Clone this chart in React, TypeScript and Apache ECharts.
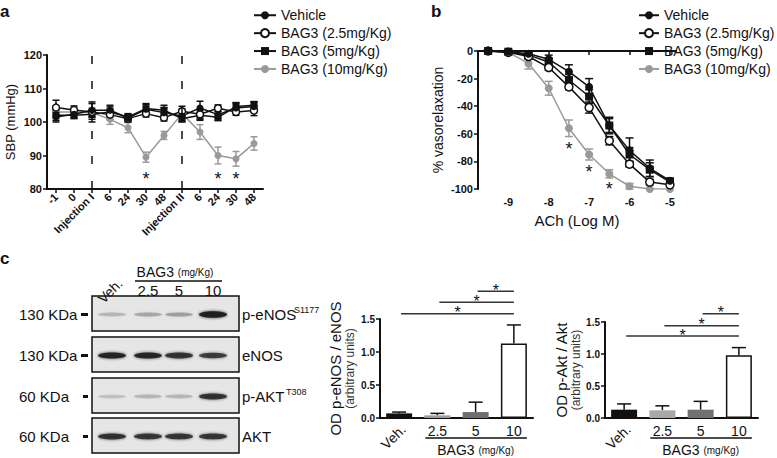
import React, { useEffect, useRef } from 'react';
import * as echarts from 'echarts';

const FONT = '"Liberation Sans", Arial, Helvetica, sans-serif';
const INK = '#111111';
const GREY = '#9a9a9a';

// ---------- Panel a : SBP time course ----------
const sbpCategories = ['-1', '0', 'Injection I', '6', '24', '30', '48', 'Injection II', '6', '24', '30', '48'];
const injectionMarks = ['Injection I', 'Injection II'];
const sbpVehicle = [101.5, 102.3, 103.5, 103.5, 101.2, 103.8, 102.8, 101.8, 104.2, 102.2, 104.2, 104.6];
const sbpVehicleErr = [1.5, 1.0, 2.0, 1.5, 1.0, 1.5, 1.5, 1.5, 2.0, 1.0, 1.5, 1.5];
const sbp25 = [104.3, 103.6, 103.0, 102.2, 101.0, 102.5, 101.3, 103.2, 102.3, 104.1, 103.0, 103.4];
const sbp25Err = [2.2, 1.2, 3.0, 1.5, 1.0, 1.0, 1.0, 1.5, 1.5, 1.0, 1.0, 1.5];
const sbp5 = [102.0, 102.0, 102.3, 103.0, 101.5, 104.0, 103.5, 101.0, 102.0, 101.4, 104.6, 105.0];
const sbp5Err = [1.5, 1.0, 1.5, 1.5, 1.0, 1.5, 1.5, 1.0, 1.5, 1.0, 1.2, 1.0];
const sbp10 = [103.0, 103.0, 102.8, 100.8, 98.3, 89.5, 96.0, 102.5, 97.0, 90.0, 89.0, 93.6];
const sbp10Err = [1.5, 1.5, 1.5, 1.5, 1.5, 1.5, 1.2, 1.5, 2.2, 2.5, 2.2, 2.0];
const sbpStarIdx = [5, 9, 10];
const sbpStarLevel = 83;

// ---------- Panel b : ACh dose response ----------
const achDose = [-9.5, -9, -8.5, -8, -7.5, -7, -6.5, -6, -5.5, -5];
const achTicks = [-9, -8, -7, -6, -5];
const relaxVehicle = [0, -0.5, -2, -6, -15, -26, -54, -72, -85, -94];
const relaxVehicleErr = [0, 1, 1.5, 3, 5, 6, 6, 9, 6, 2];
const relax25 = [0, -1, -4, -12, -26, -41, -65, -82, -95, -97];
const relax25Err = [0, 1, 2, 2, 2, 4, 3, 2, 2, 1];
const relax5 = [0, -0.5, -3, -8, -21, -33, -54, -75, -86, -95];
const relax5Err = [0, 1, 2, 3, 4, 5, 5, 5, 5, 2];
const relax10 = [0, -1, -9, -27, -56, -75, -89, -98, -100, -100];
const relax10Err = [0, 1, 4, 5, 6, 4, 3, 2, 0, 0];
const achStarDose = [-7.5, -7, -6.5];
const achStarLevel = [-71, -88, -100];

// ---------- Panel c : western blot + densitometry ----------
const blotLanes = ['2.5', '5', '10'];
const blotRows = ['p-eNOS', 'eNOS', 'p-AKT', 'AKT'];
const blotSup = ['S1177', '', 'T308', ''];
const blotMw = ['130 KDa', '130 KDa', '60 KDa', '60 KDa'];
const bandPeNOS = [0.22, 0.28, 0.3, 0.95];
const bandENOS = [0.9, 0.88, 0.8, 0.75];
const bandPAKT = [0.18, 0.22, 0.22, 0.8];
const bandAKT = [0.8, 0.78, 0.78, 0.78];

const barCategories = ['Veh.', '2.5', '5', '10'];
const odPeNOS = [0.07, 0.04, 0.09, 1.13];
const odPeNOSErr = [0.02, 0.03, 0.15, 0.28];
const odPAkt = [0.13, 0.12, 0.13, 0.98];
const odPAktErr = [0.09, 0.07, 0.13, 0.12];
const sigFrom = [2, 1, 0];
const sigLevelENOS = [1.92, 1.755, 1.58];
const sigLevelAkt = [1.63, 1.44, 1.28];

const NAMES = ['Vehicle', 'BAG3 (2.5mg/Kg)', 'BAG3 (5mg/Kg)', 'BAG3 (10mg/Kg)'];

// layout constants
const BLOT_X = 92;
const BLOT_W = 147;
const BLOT_TOPS = [296, 337, 378, 418];
const BLOT_H = 35;
const LANE_X = [112, 148, 179, 213];

function errorSeries(name: string, idx: number, data: number[][], color: string, cap: number, both: boolean) {
  return {
    type: 'custom',
    name,
    xAxisIndex: idx,
    yAxisIndex: idx,
    data,
    silent: true,
    z: 1,
    encode: { x: 0, y: 1 },
    renderItem: (_p: any, api: any) => {
      const x = api.value(0);
      const y = api.value(1);
      const e = api.value(2);
      if (!e) return { type: 'group', children: [] };
      const hi = api.coord([x, y + e]);
      const lo = api.coord([x, both ? y - e : y]);
      const st = { stroke: color, lineWidth: 1.5 };
      const ch: any[] = [
        { type: 'line', shape: { x1: hi[0], y1: hi[1], x2: lo[0], y2: lo[1] }, style: st },
        { type: 'line', shape: { x1: hi[0] - cap, y1: hi[1], x2: hi[0] + cap, y2: hi[1] }, style: st },
      ];
      if (both) ch.push({ type: 'line', shape: { x1: lo[0] - cap, y1: lo[1], x2: lo[0] + cap, y2: lo[1] }, style: st });
      return { type: 'group', children: ch };
    },
  };
}

function starSeries(name: string, idx: number, data: number[][]) {
  return {
    type: 'custom',
    name,
    xAxisIndex: idx,
    yAxisIndex: idx,
    data,
    silent: true,
    z: 5,
    encode: { x: 0, y: 1 },
    renderItem: (_p: any, api: any) => {
      const c = api.coord([api.value(0), api.value(1)]);
      return {
        type: 'text',
        x: c[0],
        y: c[1],
        style: { text: '*', fontSize: 18, fontFamily: FONT, fill: INK, align: 'center', verticalAlign: 'middle' },
      };
    },
  };
}

const styles = [
  { color: INK, symbol: 'circle', itemStyle: { color: INK } },
  { color: INK, symbol: 'circle', itemStyle: { color: '#ffffff', borderColor: INK, borderWidth: 1.5 } },
  { color: INK, symbol: 'rect', itemStyle: { color: INK } },
  { color: GREY, symbol: 'circle', itemStyle: { color: GREY } },
];

function lineSeries(i: number, idx: number, data: any[], size: number, extra: any = {}) {
  const s = styles[i];
  return {
    type: 'line',
    name: NAMES[i],
    xAxisIndex: idx,
    yAxisIndex: idx,
    data,
    symbol: s.symbol,
    symbolSize: size,
    showAllSymbol: true,
    z: 3,
    lineStyle: { color: s.color, width: 1.5 },
    itemStyle: s.itemStyle,
    ...extra,
  };
}

const tickLabel = { fontSize: 11, fontWeight: 'bold', color: INK, fontFamily: FONT };
const axisLineStyle = { show: true, lineStyle: { color: INK, width: 2 } };
const tickStyle = { show: true, length: 4, lineStyle: { color: INK, width: 1.5 } };

function buildOption() {
  const sbpSets = [sbpVehicle, sbp25, sbp5, sbp10];
  const sbpErrs = [sbpVehicleErr, sbp25Err, sbp5Err, sbp10Err];
  const relSets = [relaxVehicle, relax25, relax5, relax10];
  const relErrs = [relaxVehicleErr, relax25Err, relax5Err, relax10Err];
  const order = [3, 2, 1, 0];
  const series: any[] = [];

  order.forEach((i) => {
    series.push(
      errorSeries('erra' + i, 0, sbpSets[i].map((v, k) => [k, v, sbpErrs[i][k]]), styles[i].color, 3.5, true)
    );
  });
  order.forEach((i) => {
    const extra: any = {};
    if (i === 3) {
      extra.markLine = {
        silent: true,
        symbol: 'none',
        label: { show: false },
        lineStyle: { color: INK, width: 1.5, type: [8, 17] },
        data: injectionMarks.map((m) => ({ xAxis: m })),
      };
    }
    series.push(lineSeries(i, 0, sbpSets[i], 7, extra));
  });
  series.push(starSeries('stara', 0, sbpStarIdx.map((k) => [k, sbpStarLevel])));

  order.forEach((i) => {
    series.push(
      errorSeries('errb' + i, 1, achDose.map((d, k) => [d, relSets[i][k], relErrs[i][k]]), styles[i].color, 4, true)
    );
  });
  order.forEach((i) => {
    series.push(lineSeries(i, 1, achDose.map((d, k) => [d, relSets[i][k]]), 8));
  });
  series.push(starSeries('starb', 1, achStarDose.map((d, k) => [d, achStarLevel[k]])));

  const barColorsA = [INK, '#9c9c9c', '#6e6e6e', '#ffffff'];
  const barColorsB = [INK, '#a8a8a8', '#707070', '#ffffff'];
  const mkBars = (idx: number, vals: number[], cols: string[]) => ({
    type: 'bar',
    name: 'bars' + idx,
    xAxisIndex: idx,
    yAxisIndex: idx,
    barWidth: 26,
    z: 2,
    data: vals.map((v, k) => ({
      value: v,
      itemStyle: { color: cols[k], borderColor: k === 3 ? INK : cols[k], borderWidth: k === 3 ? 1.5 : 0 },
    })),
  });
  series.push(errorSeries('errc1', 2, odPeNOS.map((v, k) => [k, v, odPeNOSErr[k]]), INK, 7, false));
  series.push(mkBars(2, odPeNOS, barColorsA));
  series.push(errorSeries('errc2', 3, odPAkt.map((v, k) => [k, v, odPAktErr[k]]), INK, 7, false));
  series.push(mkBars(3, odPAkt, barColorsB));

  const legendBase = {
    data: NAMES,
    orient: 'vertical',
    itemHeight: 10,
    itemGap: 3.4,
    selectedMode: false,
    textStyle: { fontSize: 14, color: INK, fontFamily: FONT, lineHeight: 14.5 },
  };

  const barX = (idx: number) => ({
    gridIndex: idx,
    type: 'category',
    data: barCategories,
    axisLine: axisLineStyle,
    axisTick: { show: false },
    axisLabel: {
      interval: 0,
      fontSize: 14,
      color: INK,
      fontFamily: FONT,
      margin: 6,
      formatter: (v: string) => (v === 'Veh.' ? '' : v),
    },
  });
  const barY = (idx: number, name: string, gap: number) => ({
    gridIndex: idx,
    type: 'value',
    min: 0,
    max: 1.5,
    interval: 0.5,
    splitLine: { show: false },
    axisLine: axisLineStyle,
    axisTick: tickStyle,
    axisLabel: { ...tickLabel, fontSize: 10, margin: 5, formatter: (v: number) => v.toFixed(1) },
    name: '{a|' + name + '}\n{b|(arbitrary units)}',
    nameLocation: 'middle',
    nameRotate: 90,
    nameGap: gap,
    nameTextStyle: {
      color: INK,
      fontFamily: FONT,
      rich: {
        a: { fontSize: 15, color: INK, fontFamily: FONT, lineHeight: 16 },
        b: { fontSize: 12, color: '#333', fontFamily: FONT, lineHeight: 14 },
      },
    },
  });

  return {
    animation: false,
    backgroundColor: '#ffffff',
    textStyle: { fontFamily: FONT },
    legend: [
      { ...legendBase, itemWidth: 22, left: 248, top: 3 },
      { ...legendBase, itemWidth: 20, left: 633, top: 3 },
    ],
    grid: [
      { left: 47, top: 55, width: 216, height: 134 },
      { left: 478, top: 51, width: 198, height: 138 },
      { left: 380, top: 319, width: 153, height: 99 },
      { left: 605, top: 322, width: 153, height: 96 },
    ],
    xAxis: [
      {
        gridIndex: 0,
        type: 'category',
        data: sbpCategories,
        axisLine: axisLineStyle,
        axisTick: { ...tickStyle, alignWithLabel: true },
        axisLabel: { ...tickLabel, rotate: 45, interval: 0, margin: 6 },
      },
      {
        gridIndex: 1,
        type: 'value',
        min: -9.75,
        max: -4.85,
        splitLine: { show: false },
        axisLine: axisLineStyle,
        axisTick: { ...tickStyle, customValues: achTicks },
        axisLabel: { ...tickLabel, margin: 7, customValues: achTicks },
        name: 'ACh (Log M)',
        nameLocation: 'middle',
        nameGap: 24,
        nameTextStyle: { fontSize: 15, color: INK, fontFamily: FONT },
      },
      barX(2),
      barX(3),
    ],
    yAxis: [
      {
        gridIndex: 0,
        type: 'value',
        min: 80,
        max: 120,
        interval: 10,
        splitLine: { show: false },
        axisLine: axisLineStyle,
        axisTick: tickStyle,
        axisLabel: { ...tickLabel, margin: 5 },
        name: 'SBP (mmHg)',
        nameLocation: 'middle',
        nameRotate: 90,
        nameGap: 30,
        nameTextStyle: { fontSize: 13, color: INK, fontFamily: FONT },
      },
      {
        gridIndex: 1,
        type: 'value',
        min: -100,
        max: 0,
        interval: 20,
        splitLine: { show: false },
        axisLine: axisLineStyle,
        axisTick: tickStyle,
        axisLabel: { ...tickLabel, margin: 5 },
        name: '% vasorelaxation',
        nameLocation: 'middle',
        nameRotate: 90,
        nameGap: 33,
        nameTextStyle: { fontSize: 14, color: INK, fontFamily: FONT },
      },
      barY(2, 'OD p-eNOS / eNOS', 23),
      barY(3, 'OD p-Akt / Akt', 19),
    ],
    series,
  };
}

function txt(x: number, y: number, text: string, size: number, extra: any = {}, rotation = 0) {
  return {
    type: 'text',
    x,
    y,
    rotation,
    silent: true,
    style: {
      text,
      fontSize: size,
      fontFamily: FONT,
      fill: INK,
      align: 'left',
      verticalAlign: 'middle',
      ...extra,
    },
  };
}

function buildGraphics(chart: any) {
  const g: any[] = [];
  // panel letters
  g.push(txt(0, 11, 'a', 17, { fontWeight: 'bold' }));
  g.push(txt(431, 11, 'b', 17, { fontWeight: 'bold' }));
  g.push(txt(0, 258, 'c', 17, { fontWeight: 'bold' }));

  // western blot
  const bands = [bandPeNOS, bandENOS, bandPAKT, bandAKT];
  BLOT_TOPS.forEach((top, r) => {
    const cy = top + BLOT_H / 2 + 1;
    g.push({
      type: 'rect',
      silent: true,
      shape: { x: BLOT_X, y: top, width: BLOT_W, height: BLOT_H },
      style: { fill: '#e6e6e6', stroke: INK, lineWidth: 1.5 },
    });
    LANE_X.forEach((lx, l) => {
      const a = bands[r][l];
      g.push({
        type: 'ellipse',
        silent: true,
        shape: { cx: lx, cy, rx: 14, ry: 1.5 + 1.8 * a },
        style: { fill: `rgba(30,30,30,${a})`, shadowBlur: 3, shadowColor: `rgba(30,30,30,${a})` },
      });
    });
    g.push(txt(19, cy, blotMw[r], 15));
    g.push({
      type: 'line',
      silent: true,
      shape: { x1: blotMw[r].length > 6 ? 81 : 83, y1: cy, x2: 88, y2: cy },
      style: { stroke: INK, lineWidth: 3 },
    });
    g.push(txt(242, cy, blotRows[r], 15));
    if (blotSup[r]) {
      const off = r === 0 ? 52 : 44;
      g.push(txt(242 + off, cy - 5, blotSup[r], 9));
    }
  });
  // blot header
  g.push(txt(120, 281, 'Veh.', 14, { align: 'right' }, Math.PI / 4));
  g.push(
    txt(175, 272, '{a|BAG3} {b|(mg/Kg)}', 14, {
      align: 'center',
      rich: { a: { fontSize: 14, fontFamily: FONT, fill: INK }, b: { fontSize: 10, fontFamily: FONT, fill: INK } },
    })
  );
  g.push({ type: 'line', silent: true, shape: { x1: 135, y1: 281, x2: 222, y2: 281 }, style: { stroke: INK, lineWidth: 1.5 } });
  blotLanes.forEach((t, k) => g.push(txt(LANE_X[k + 1], 290, t, 15, { align: 'center' })));

  // densitometry annotations
  const annot = (idx: number, levels: number[]) => {
    const conv = (x: number, y: number) => chart.convertToPixel({ xAxisIndex: idx, yAxisIndex: idx }, [x, y]);
    levels.forEach((lv, k) => {
      const p1 = conv(sigFrom[k], lv);
      const p2 = conv(3, lv);
      g.push({ type: 'line', silent: true, shape: { x1: p1[0] + 2, y1: p1[1], x2: p2[0], y2: p2[1] }, style: { stroke: '#333', lineWidth: 1.5 } });
      g.push(txt((p1[0] + p2[0]) / 2 + 1, p1[1] - 1, '*', 16, { align: 'center' }));
    });
    const base0 = conv(0, 0);
    const c1 = conv(1, 0);
    const c3 = conv(3, 0);
    g.push(txt(base0[0] + 4, base0[1] + 9, 'Veh.', 14, { align: 'right' }, Math.PI / 4));
    g.push({
      type: 'line',
      silent: true,
      shape: { x1: c1[0] - 12, y1: base0[1] + 20, x2: c3[0] + 13, y2: base0[1] + 20 },
      style: { stroke: INK, lineWidth: 1.5 },
    });
    g.push(
      txt((c1[0] + c3[0]) / 2, base0[1] + 32, '{a|BAG3} {b|(mg/Kg)}', 14, {
        align: 'center',
        rich: { a: { fontSize: 14, fontFamily: FONT, fill: INK }, b: { fontSize: 10, fontFamily: FONT, fill: INK } },
      })
    );
  };
  annot(2, sigLevelENOS);
  annot(3, sigLevelAkt);
  return g;
}

export default function App() {
  const ref = useRef<HTMLDivElement>(null);
  useEffect(() => {
    const el = ref.current;
    if (!el) return;
    const chart = echarts.init(el, null, { renderer: 'svg' });
    chart.setOption(buildOption() as any);
    chart.setOption({ graphic: buildGraphics(chart) } as any);
    return () => chart.dispose();
  }, []);
  return (
    <div
      ref={ref}
      style={{ position: 'fixed', left: 0, top: 0, width: 777, height: 458, background: '#fff' }}
    />
  );
}
